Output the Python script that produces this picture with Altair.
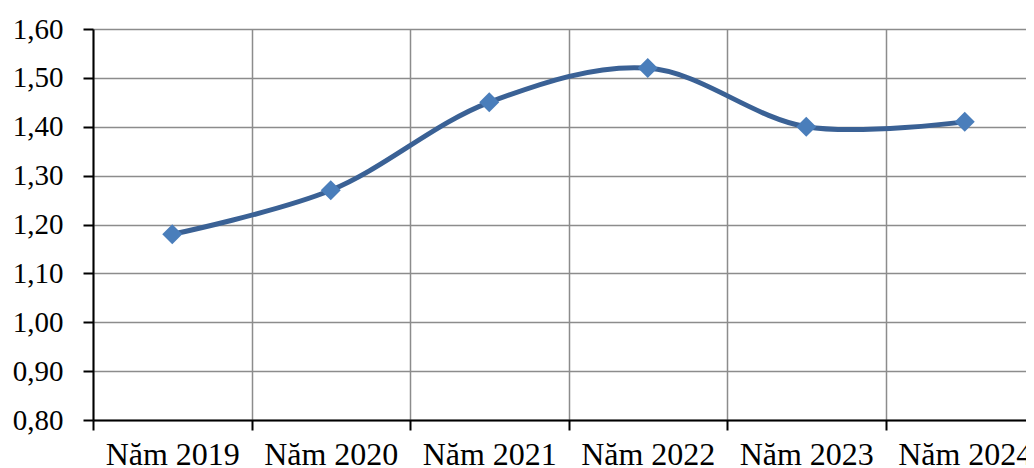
import altair as alt
import pandas as pd

years = ["Năm 2019", "Năm 2020", "Năm 2021", "Năm 2022", "Năm 2023", "Năm 2024"]
values = [1.18, 1.27, 1.45, 1.52, 1.40, 1.41]
y_ticks = [0.8, 0.9, 1.0, 1.1, 1.2, 1.3, 1.4, 1.5, 1.6]

df = pd.DataFrame({"year": years, "value": values})

FONT = "Liberation Serif"

x_enc = alt.X(
    "year:N",
    sort=years,
    title=None,
    scale=alt.Scale(type="band", paddingInner=0, paddingOuter=0),
    axis=alt.Axis(
        labelAngle=0,
        tickBand="extent",
        grid=True,
        gridColor="#8c8c8c",
        gridWidth=1.5,
        domainColor="black",
        domainWidth=2,
        tickColor="black",
        tickWidth=2,
        tickSize=10,
        labelPadding=9,
        labelFont=FONT,
        labelFontSize=32,
        labelColor="black",
    ),
)
y_enc = alt.Y(
    "value:Q",
    title=None,
    scale=alt.Scale(domain=[0.8, 1.6], nice=False, zero=False),
    axis=alt.Axis(
        values=y_ticks,
        labelExpr="replace(format(datum.value, '.2f'), '.', ',')",
        grid=True,
        gridColor="#8c8c8c",
        gridWidth=1.5,
        domainColor="black",
        domainWidth=2,
        tickColor="black",
        tickWidth=2,
        tickSize=10,
        labelPadding=20,
        labelFont=FONT,
        labelFontSize=29,
        labelColor="black",
    ),
)

base = alt.Chart(df).encode(x=x_enc, y=y_enc)
line = base.mark_line(interpolate="catmull-rom", color="#3A6195", strokeWidth=5)
pts = base.mark_point(shape="diamond", filled=True, size=400, color="#4A7EBB", opacity=1)

chart = (
    alt.layer(line, pts)
    .properties(
        width=951,
        height=391,
        autosize=alt.AutoSizeParams(type="none"),
        padding={"left": 85, "top": 21, "right": -18, "bottom": 48},
    )
    .configure_view(strokeWidth=0)
)

chart.save("out.html", embed_options={"renderer": "svg", "actions": False})
